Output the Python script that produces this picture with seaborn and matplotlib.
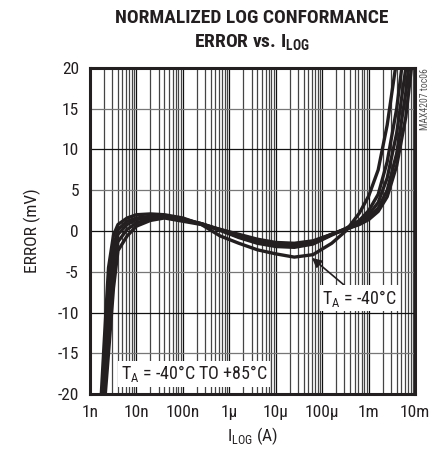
import numpy as np
import pandas as pd
import matplotlib
matplotlib.use('Agg')
import matplotlib.pyplot as plt
import seaborn as sns

# I_LOG sample points (A), shared by all curves
i_log = [1.6e-9, 2.0e-9, 2.5e-9, 3.2e-9, 4.0e-9, 6.3e-9, 1e-8, 2e-8, 4e-8, 1e-7,
         2.5e-7, 6.3e-7, 1.6e-6, 4e-6, 1e-5, 2.5e-5, 6.3e-5, 1.6e-4, 3.2e-4,
         6.3e-4, 1e-3, 1.6e-3, 2.5e-3, 4e-3, 6.3e-3, 1e-2]

# error (mV), one list per temperature curve
err_m40 = [-24, -14, -4.5, -0.5, 0.8, 1.6, 2.0, 2.1, 2.0, 1.6, 0.8, -0.6, -1.5, -2.3,
           -2.8, -3.2, -2.9, -1.5, 0.0, 2.2, 4.3, 7.5, 13, 21, 30, 40]
err_t2 = [-26, -17, -7, -2.0, 0.2, 1.2, 1.6, 1.8, 1.7, 1.5, 0.9, 0.1, -0.8, -1.5,
          -1.9, -2.0, -1.6, -0.5, 0.3, 1.3, 2.5, 4.5, 8.5, 15, 24, 34]
err_t3 = [-27, -19, -9, -3.0, -0.4, 0.8, 1.4, 1.7, 1.7, 1.4, 0.9, 0.1, -0.7, -1.3,
          -1.7, -1.8, -1.5, -0.4, 0.3, 1.1, 2.0, 3.5, 6.5, 12, 20, 30]
err_t4 = [-28, -21, -12, -4.5, -1.3, 0.2, 1.0, 1.5, 1.7, 1.3, 0.9, 0.2, -0.5, -1.1,
          -1.5, -1.6, -1.3, -0.4, 0.2, 0.9, 1.6, 2.8, 5.0, 9.5, 17, 27]
err_t5 = [-29, -22, -15, -7, -2.4, -0.6, 0.6, 1.3, 1.6, 1.2, 0.8, 0.2, -0.4, -1.0,
          -1.4, -1.5, -1.2, -0.4, 0.2, 0.8, 1.4, 2.4, 4.2, 8.0, 14, 24]

curves = {'-40C': err_m40, 't2': err_t2, 't3': err_t3, 't4': err_t4, 't5': err_t5}

x_ticks = [1e-9, 1e-8, 1e-7, 1e-6, 1e-5, 1e-4, 1e-3, 1e-2]
x_labels = ['1n', '10n', '100n', '1\u03bc', '10\u03bc', '100\u03bc', '1m', '10m']
y_ticks = [-20, -15, -10, -5, 0, 5, 10, 15, 20]

frames = []
for name, vals in curves.items():
    frames.append(pd.DataFrame({'current': i_log, 'error': vals, 'curve': name}))
df = pd.concat(frames, ignore_index=True)

sns.set_style('white')
plt.rcParams['font.family'] = ['Roboto Condensed', 'DejaVu Sans']
plt.rcParams['axes.unicode_minus'] = False
plt.rcParams['mathtext.fontset'] = 'custom'
plt.rcParams['mathtext.rm'] = 'Roboto Condensed'
plt.rcParams['mathtext.bf'] = 'Roboto Condensed:black'

ink = '#231f20'

fig = plt.figure(figsize=(4.37, 4.53), dpi=100)
ax = fig.add_axes([0.206, 0.130, 0.744, 0.720])

sns.lineplot(data=df, x='current', y='error', units='curve', estimator=None,
             color=ink, linewidth=2.4, ax=ax, zorder=5)

ax.set_xscale('log')
ax.set_xlim(1e-9, 1e-2)
ax.set_ylim(-20, 20)
ax.set_xticks(x_ticks)
ax.set_xticklabels(x_labels)
ax.set_yticks(y_ticks)
ax.xaxis.set_minor_locator(matplotlib.ticker.LogLocator(base=10, subs=np.arange(2, 10), numticks=100))
ax.xaxis.set_minor_formatter(matplotlib.ticker.NullFormatter())
ax.tick_params(axis='both', which='both', length=0, labelsize=12.5, pad=8, colors=ink)

ax.grid(True, which='major', axis='x', color='#111111', linewidth=0.9)
ax.grid(True, which='minor', axis='x', color='#444444', linewidth=0.9)
ax.grid(True, which='major', axis='y', color='#333333', linewidth=0.9)
for k, gl in enumerate(ax.get_ygridlines()):
    gl.set_color('#111111' if y_ticks[k] % 10 == 0 else '#777777')
ax.set_axisbelow(True)

for s in ax.spines.values():
    s.set_visible(True)
    s.set_color(ink)
    s.set_linewidth(2.2)

ax.set_xlabel('I$_{\\mathregular{LOG}}$ (A)', fontsize=12.5, labelpad=4, color=ink)
ax.set_ylabel('ERROR (mV)', fontsize=12.5, labelpad=12, color=ink)

fig.text(0.577, 0.960, 'NORMALIZED LOG CONFORMANCE', ha='center', va='center',
         fontsize=14, fontweight='black', color=ink)
fig.text(0.577, 0.905, 'ERROR vs. I$_{\\mathbf{LOG}}$', ha='center', va='center',
         fontsize=14, fontweight='black', color=ink)

fig.text(0.972, 0.85, 'MAX4207 toc06', rotation=90, ha='center', va='top',
         fontsize=7, color='#555555')

box = dict(boxstyle='square,pad=0.15', facecolor='white', edgecolor='none')
ax.annotate('T$_{\\mathregular{A}}$ = -40\u00b0C', xy=(6e-5, -3.3), xytext=(1.0e-4, -8.9),
            fontsize=13, color=ink, bbox=box, zorder=6,
            arrowprops=dict(arrowstyle='-|>', color=ink, lw=1.2,
                            mutation_scale=14, shrinkA=0, shrinkB=0))
ax.text(4.6e-9, -18.2, 'T$_{\\mathregular{A}}$ = -40\u00b0C TO +85\u00b0C', fontsize=13,
        color=ink, bbox=box, zorder=6)

fig.savefig('out.png', dpi=100)
